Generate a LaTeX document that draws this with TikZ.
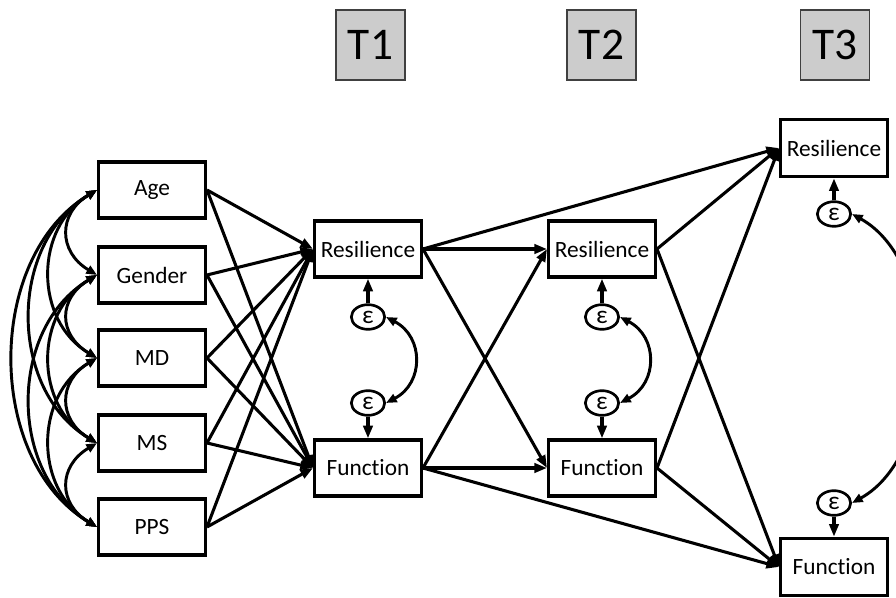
\documentclass[tikz,border=0pt]{standalone}
\usepackage{fontspec}
\setmainfont[Ligatures=NoCommon]{Carlito}
\usetikzlibrary{arrows.meta,calc,shapes.geometric}

\begin{document}
\begin{tikzpicture}[x=0.75pt,y=-0.75pt,
  box/.style={draw, line width=2.5pt, fill=white, minimum width=80pt,
    minimum height=42pt, inner sep=0pt, font=\fontsize{17.5}{20}\selectfont},
  hdr/.style={draw=black!75, line width=1.1pt, fill=black!20, minimum width=52pt,
    minimum height=52.5pt, inner sep=0pt, font=\fontsize{34}{40}\selectfont},
  err/.style={draw, ellipse, line width=2pt, fill=white, minimum width=25pt,
    minimum height=18.5pt, inner sep=0pt, font=\fontsize{19}{20}\selectfont},
  link/.style={line width=2.3pt, -{Triangle[length=9.5pt,width=7pt]}},
  cov/.style={line width=2.2pt,
    {Triangle[length=8pt,width=6.5pt]}-{Triangle[length=8pt,width=6.5pt]}},
]
\useasboundingbox (0,0) rectangle (896,598);
\clip (0,0) rectangle (896,598);

% wave headers
\node[hdr] (t1) at (370.5,45) {T1};
\node[hdr] (t2) at (601.5,45) {T2};
\node[hdr] (t3) at (835,45) {T3};

% exogenous predictors
\node[box] (age) at (152,190) {Age};
\node[box] (gen) at (152,275) {Gender};
\node[box] (md)  at (152,358) {MD};
\node[box] (ms)  at (152,443) {MS};
\node[box] (pps) at (152,527) {PPS};

% outcomes per wave
\node[box] (r1) at (368,249) {Resilience};
\node[box] (f1) at (368,468) {Function};
\node[box] (r2) at (602,249) {Resilience};
\node[box] (f2) at (602,468) {Function};
\node[box, minimum height=43pt] (r3) at (834,148) {Resilience};
\node[box, minimum height=43pt] (f3) at (834,567) {Function};

% residual terms
\node[err] (e1r) at (368,317) {ε};
\node[err] (e1f) at (368,403) {ε};
\node[err] (e2r) at (602,317) {ε};
\node[err] (e2f) at (602,403) {ε};
\node[err] (e3r) at (834,214) {ε};
\node[err] (e3f) at (834,503) {ε};

% covariances among predictors
\foreach \a/\b/\c in {age/gen/39, gen/md/39, md/ms/39, ms/pps/39,
                      age/md/63, gen/ms/63, md/pps/63,
                      age/ms/89, gen/pps/89, age/pps/112}
  \draw[cov] (\a.west) .. controls +(-\c,0.6*\c) and +(-\c,-0.6*\c) .. (\b.west);

% predictor effects on wave 1
\foreach \p in {age,gen,md,ms,pps} {
  \draw[link] (\p.east) -- (r1.west);
  \draw[link] (\p.east) -- (f1.west);
}

% cross-lagged paths
\draw[link] (r1.east) -- (r2.west);
\draw[link] (r1.east) -- (f2.west);
\draw[link] (f1.east) -- (r2.west);
\draw[link] (f1.east) -- (f2.west);
\draw[link] (r1.east) -- (r3.west);
\draw[link] (f1.east) -- (f3.west);
\draw[link] (r2.east) -- (r3.west);
\draw[link] (r2.east) -- (f3.west);
\draw[link] (f2.east) -- (r3.west);
\draw[link] (f2.east) -- (f3.west);

% residual paths
\draw[link] (e1r.north) -- (r1.south);
\draw[link] (e1f.south) -- (f1.north);
\draw[link] (e2r.north) -- (r2.south);
\draw[link] (e2f.south) -- (f2.north);
\draw[link] (e3r.north) -- (r3.south);
\draw[link] (e3f.south) -- (f3.north);

% residual covariances
\draw[cov] (e1r.east) .. controls +(38,20) and +(38,-20) .. (e1f.east);
\draw[cov] (e2r.east) .. controls +(38,20) and +(38,-20) .. (e2f.east);
\draw[cov] (e3r.east) .. controls +(90,50) and +(90,-50) .. (e3f.east);
\end{tikzpicture}
\end{document}
